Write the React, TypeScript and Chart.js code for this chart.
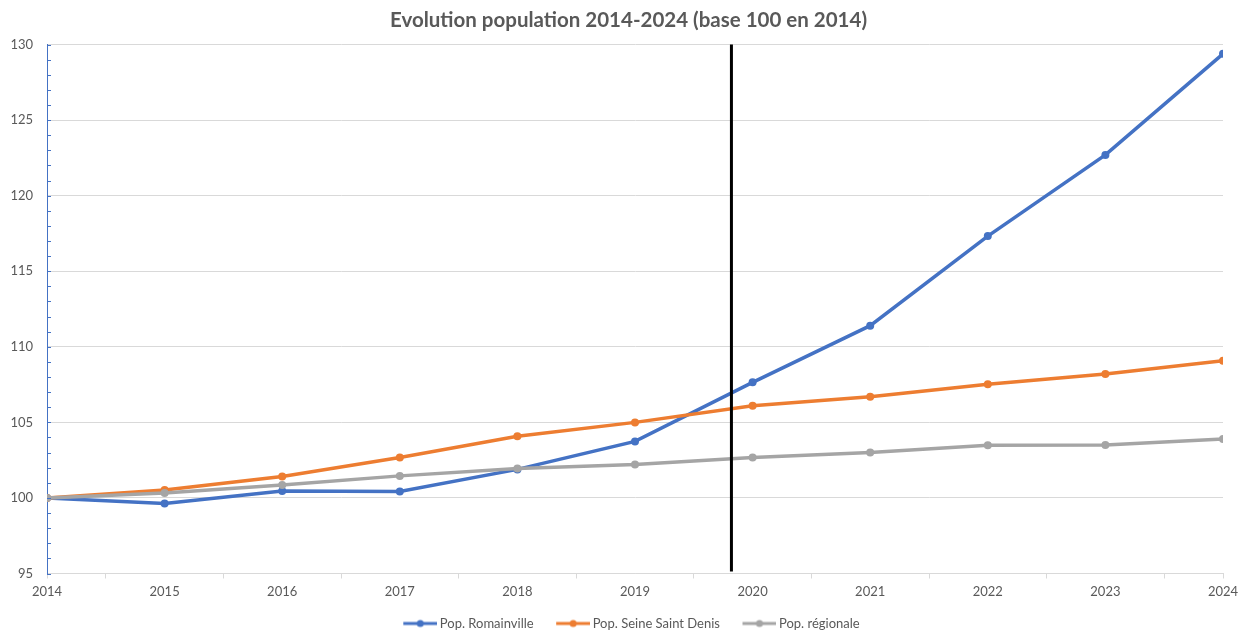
import React, { useEffect, useRef } from "react";
import { Chart, registerables } from "chart.js";

Chart.register(...registerables);

const years = [2014, 2015, 2016, 2017, 2018, 2019, 2020, 2021, 2022, 2023, 2024];
const romainville = [100, 99.64, 100.46, 100.43, 101.89, 103.74, 107.65, 111.4, 117.33, 122.7, 129.39];
const seineSaintDenis = [100, 100.53, 101.42, 102.68, 104.08, 105.0, 106.1, 106.7, 107.52, 108.2, 109.08];
const regionale = [100, 100.33, 100.86, 101.46, 101.95, 102.22, 102.68, 103.0, 103.48, 103.51, 103.9];
const seriesLabels = ["Pop. Romainville", "Pop. Seine Saint Denis", "Pop. régionale"];
const seriesColors = ["#4472C4", "#ED7D31", "#A5A5A5"];
const markerYear = 2019.82;

const FONT = "Lato, 'Open Sans', sans-serif";
const TEXT = "#595959";

// legend marker: a short line with a dot, shifted to the right of its image
function legendSwatch(color: string): HTMLCanvasElement {
  const c = document.createElement("canvas");
  c.width = 44;
  c.height = 10;
  const g = c.getContext("2d")!;
  g.strokeStyle = color;
  g.lineWidth = 3;
  g.beginPath();
  g.moveTo(10, 5);
  g.lineTo(44, 5);
  g.stroke();
  g.fillStyle = color;
  g.beginPath();
  g.arc(27, 5, 3.5, 0, Math.PI * 2);
  g.fill();
  return c;
}

const extras = {
  id: "extras",
  afterDraw(chart: any) {
    const { ctx, chartArea, scales } = chart;
    const y = scales.y;
    ctx.save();
    // value-axis labels, right-aligned against the axis
    ctx.fillStyle = TEXT;
    ctx.font = `13px ${FONT}`;
    ctx.textAlign = "right";
    ctx.textBaseline = "middle";
    y.ticks.forEach((t: any) => {
      ctx.fillText(String(t.value), chartArea.left - 14, y.getPixelForValue(t.value));
    });
    ctx.restore();
  },
  afterDatasetsDraw(chart: any) {
    const { ctx, chartArea, scales } = chart;
    const x = scales.x;
    const y = scales.y;
    ctx.save();
    // minor ticks on the value axis
    ctx.strokeStyle = "#4472C4";
    ctx.lineWidth = 1;
    for (let v = 95; v <= 130; v++) {
      const py = Math.round(y.getPixelForValue(v)) + 0.5;
      ctx.beginPath();
      ctx.moveTo(chartArea.left, py);
      ctx.lineTo(chartArea.left + 4, py);
      ctx.stroke();
    }
    // vertical marker line
    const px = x.getPixelForValue(markerYear);
    ctx.strokeStyle = "#000000";
    ctx.lineWidth = 3;
    ctx.beginPath();
    ctx.moveTo(px, chartArea.top);
    ctx.lineTo(px, chartArea.bottom - 2);
    ctx.stroke();
    ctx.restore();
  },
};

export default function App() {
  const ref = useRef<HTMLCanvasElement>(null);

  useEffect(() => {
    const data = [romainville, seineSaintDenis, regionale];
    const chart = new Chart(ref.current!, {
      type: "line",
      data: {
        datasets: data.map((vals, i) => ({
          label: seriesLabels[i],
          data: years.map((yr, k) => ({ x: yr, y: vals[k] })),
          borderColor: seriesColors[i],
          backgroundColor: seriesColors[i],
          borderWidth: 3.5,
          pointRadius: 4,
          pointBorderWidth: 0,
          pointHoverRadius: 4,
          tension: 0,
          order: 3 - i,
        })),
      },
      options: {
        animation: false,
        responsive: false,
        maintainAspectRatio: false,
        layout: { padding: { left: 34, right: 16, top: 0, bottom: 0 } },
        plugins: {
          tooltip: { enabled: false },
          title: {
            display: true,
            text: "Evolution population 2014-2024 (base 100 en 2014)",
            color: TEXT,
            font: { family: FONT, size: 20.5, weight: "bold" },
            padding: { top: 8, bottom: 12 },
          },
          legend: {
            position: "bottom",
            labels: {
              color: TEXT,
              font: { family: FONT, size: 13 },
              usePointStyle: true,
              pointStyleWidth: 36,
              padding: 16.5,
              generateLabels: (ch: any) =>
                ch.data.datasets.map((ds: any, i: number) => ({
                  text: ds.label,
                  fillStyle: seriesColors[i],
                  strokeStyle: seriesColors[i],
                  fontColor: TEXT,
                  lineWidth: 0,
                  pointStyle: legendSwatch(seriesColors[i]),
                  datasetIndex: i,
                  hidden: false,
                })),
            },
          },
        },
        scales: {
          x: {
            type: "linear",
            min: 2014,
            max: 2024,
            afterBuildTicks: (scale: any) => {
              const t = [];
              for (let v = 2014; v <= 2024.001; v += 0.5) t.push({ value: v });
              scale.ticks = t;
            },
            afterFit: (scale: any) => {
              scale.height = 27;
              scale.paddingLeft = 0;
              scale.paddingRight = 0;
            },
            ticks: {
              autoSkip: false,
              maxRotation: 0,
              color: TEXT,
              font: { family: FONT, size: 13 },
              padding: 6,
              callback: (v: any) => (Number(v) % 1 === 0 ? String(v) : ""),
            },
            grid: {
              drawOnChartArea: false,
              drawTicks: true,
              tickLength: 5,
              color: (c: any) => {
                const v = c.tick ? c.tick.value : 0;
                return v % 1 !== 0 || v === 2014 || v === 2024 ? "#D9D9D9" : "rgba(0,0,0,0)";
              },
            },
            border: { color: "#D9D9D9", width: 1 },
          },
          y: {
            min: 95,
            max: 130,
            afterFit: (scale: any) => {
              scale.width = 13;
            },
            ticks: {
              stepSize: 5,
              display: false,
            },
            grid: {
              color: "#D9D9D9",
              lineWidth: 1,
              drawTicks: false,
            },
            border: { color: "#4472C4", width: 1 },
          },
        },
      },
      plugins: [extras],
    });
    return () => chart.destroy();
  }, []);

  return (
    <div
      style={{
        position: "fixed",
        left: 0,
        top: 0,
        width: 1239,
        height: 630,
        overflow: "hidden",
        background: "#fff",
      }}
    >
      <canvas ref={ref} width={1239} height={640} style={{ display: "block" }} />
    </div>
  );
}
